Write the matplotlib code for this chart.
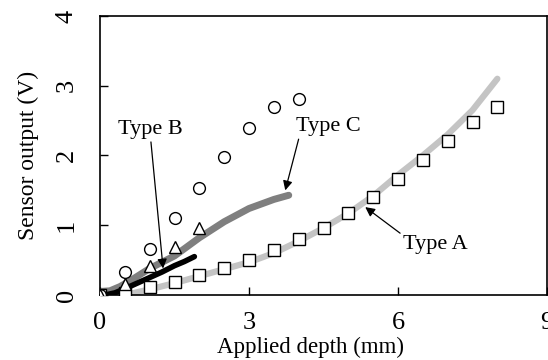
import matplotlib
matplotlib.use("Agg")
import matplotlib.pyplot as plt

plt.rcParams['font.family'] = ['Liberation Serif', 'DejaVu Serif']

# measured points (markers)
depth_sq = [0, 0.5, 1, 1.5, 2, 2.5, 3, 3.5, 4, 4.5, 5, 5.5, 6, 6.5, 7, 7.5, 8]
volt_sq = [0, 0.03, 0.12, 0.19, 0.29, 0.39, 0.50, 0.64, 0.80, 0.96, 1.17, 1.40, 1.66, 1.94, 2.21, 2.48, 2.70]

depth_ci = [0, 0.5, 1, 1.5, 2, 2.5, 3, 3.5, 4]
volt_ci = [0, 0.33, 0.66, 1.11, 1.54, 1.98, 2.40, 2.70, 2.81]

depth_tri = [0, 0.5, 1, 1.5, 2]
volt_tri = [0, 0.16, 0.42, 0.69, 0.96]

# simulated curves
depth_a = [0.5, 1, 1.5, 2, 2.5, 3, 3.5, 4, 4.5, 5, 5.5, 6, 6.5, 7, 7.5, 8]
volt_a = [0, 0.08, 0.17, 0.27, 0.37, 0.47, 0.60, 0.77, 0.96, 1.17, 1.42, 1.72, 2.0, 2.3, 2.65, 3.1]

depth_b = [0.1, 0.3, 0.5, 0.75, 1.0, 1.25, 1.5, 1.7, 1.9]
volt_b = [0, 0.03, 0.09, 0.17, 0.25, 0.33, 0.42, 0.48, 0.55]

depth_c = [0, 0.2, 0.4, 0.6, 1.0, 1.5, 2.0, 2.5, 3.0, 3.5, 3.8]
volt_c = [0.05, 0.06, 0.12, 0.2, 0.38, 0.56, 0.82, 1.05, 1.24, 1.37, 1.43]

fig = plt.figure(figsize=(5.48, 3.6), dpi=100)
ax = fig.add_axes([0.1825, 0.1806, 0.8157, 0.775])

ax.plot(depth_a, volt_a, color='#c4c4c4', lw=4.5, solid_capstyle='round', zorder=2)
ax.plot(depth_c, volt_c, color='#7f7f7f', lw=5, solid_capstyle='round', zorder=2)
ax.plot(depth_b, volt_b, color='black', lw=4, solid_capstyle='round', zorder=2)

mk = dict(ls='none', mfc='white', mec='black', mew=1.0, zorder=3)
ax.plot(depth_sq, volt_sq, marker='s', ms=8, **mk)
ax.plot(depth_ci, volt_ci, marker='o', ms=8.5, **mk)
ax.plot(depth_tri, volt_tri, marker='^', ms=8.5, **mk)

arw = dict(arrowstyle='-|>', color='black', lw=0.9, mutation_scale=14)
ax.annotate('Type B', xy=(1.27, 0.38), xytext=(1.02, 2.37), ha='center', va='center',
            fontsize=16, arrowprops=dict(arw, shrinkA=0, shrinkB=0, relpos=(0.5, 0.0)))
ax.annotate('Type C', xy=(3.73, 1.5), xytext=(4.6, 2.41), ha='center', va='center',
            fontsize=16, arrowprops=dict(arw, shrinkA=0, shrinkB=0, relpos=(0.05, 0.0)))
ax.annotate('Type A', xy=(5.34, 1.26), xytext=(6.75, 0.72), ha='center', va='center',
            fontsize=16, arrowprops=dict(arw, shrinkA=0, shrinkB=0, relpos=(0.0, 1.0)))

ax.set_xlim(0, 9)
ax.set_ylim(0, 4)
ax.set_xticks([0, 3, 6, 9])
ax.set_yticks([0, 1, 2, 3, 4])
ax.tick_params(direction='in', length=6, width=1, labelsize=19, top=False, right=False)
ax.tick_params(axis='x', pad=12)
ax.tick_params(axis='y', pad=16)
for lab in ax.get_yticklabels():
    lab.set_rotation(90)
    lab.set_va('center')
ax.set_xlabel('Applied depth (mm)', fontsize=16.5, labelpad=-2)
ax.xaxis.set_label_coords(0.472, -0.15)
ax.set_ylabel('Sensor output (V)', fontsize=17, labelpad=12)
for sp in ax.spines.values():
    sp.set_linewidth(1.2)

fig.savefig('out.png', dpi=100)
